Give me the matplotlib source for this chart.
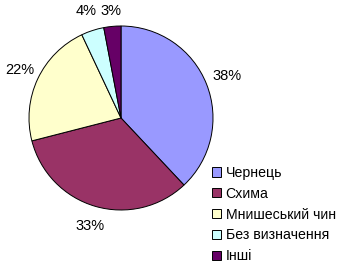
import matplotlib
matplotlib.use('Agg')
import matplotlib.pyplot as plt
import numpy as np

plt.rcParams['font.family'] = ['Liberation Sans', 'DejaVu Sans']

# Data
categories = ['Чернець', 'Схима', 'Мнишеський чин', 'Без визначення', 'Інші']
shares = [38, 33, 22, 4, 3]
colors = ['#9999FF', '#993366', '#FFFFCC', '#CCFFFF', '#660066']
# how far out each percent label sits (in pie radii)
label_dist = [1.245, 1.22, 1.22, 1.22, 1.165]

fig = plt.figure(figsize=(3.38, 2.65), dpi=100)
ax = fig.add_axes([0, 0, 1, 1])

cx, cy, r = 121, 147, 92
wedges, texts, pcts = ax.pie(
    shares, colors=colors, startangle=90, counterclock=False,
    center=(cx, cy), radius=r, autopct='%d%%', pctdistance=1.22,
    wedgeprops={'edgecolor': 'black', 'linewidth': 0.7},
    textprops={'fontsize': 10.5},
)
ax.set_xlim(0, 338)
ax.set_ylim(0, 265)
ax.set_aspect('equal')
ax.axis('off')

# nudge labels the way Excel places them
for w, t, d in zip(wedges, pcts, label_dist):
    ang = np.deg2rad((w.theta1 + w.theta2) / 2)
    t.set_position((cx + d * r * np.cos(ang), cy + d * r * np.sin(ang)))

ax.legend(wedges, categories, loc='upper left', bbox_to_anchor=(212 / 338, 1 - 166 / 265),
          frameon=False, fontsize=10.2, handlelength=0.62, handleheight=0.62,
          handletextpad=0.35, labelspacing=0.48, borderaxespad=0, borderpad=0)

fig.savefig('out.png', dpi=100)
